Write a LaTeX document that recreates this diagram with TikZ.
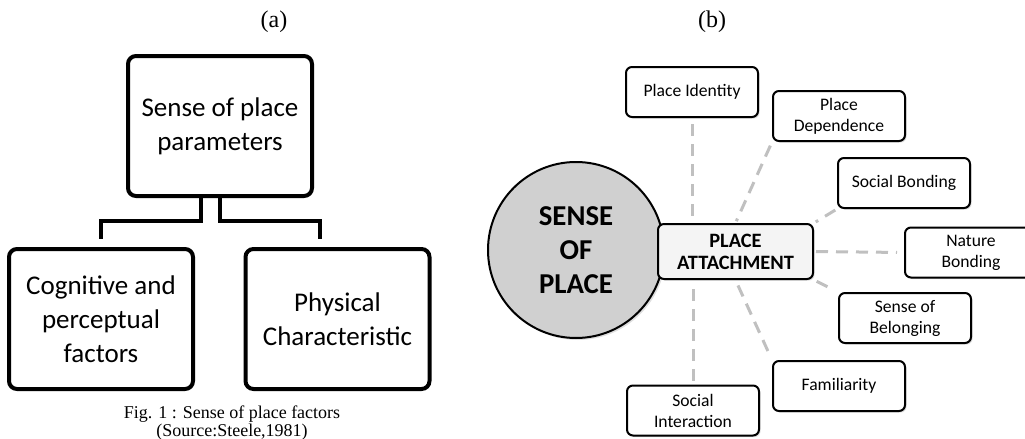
\documentclass[tikz,border=0pt]{standalone}
\usepackage{fontspec}
\setmainfont{Carlito}
\newfontfamily\capfont{Liberation Serif}
\usepackage{tikz}
\usetikzlibrary{shadows,positioning}
\definecolor{sopgray}{RGB}{208,208,208}
\definecolor{hubgray}{RGB}{244,244,244}
\definecolor{dashgray}{RGB}{192,192,192}

\begin{document}
\begin{tikzpicture}[x=0.5pt, y=-0.5pt]
    % Define styles
    \tikzset{
        bigbox/.style={rectangle, draw=black, line width=2pt, rounded corners=4pt, minimum width=92pt, minimum height=70pt, align=center, font=\fontsize{13.5}{17}\selectfont},
        smallbox/.style={rectangle, draw=black, line width=1pt, rounded corners=3pt, fill=white, minimum width=66pt, minimum height=25pt, align=center, inner sep=1pt, font=\fontsize{8.8}{10.5}\selectfont, drop shadow={shadow xshift=0.8pt, shadow yshift=-0.8pt, opacity=0.25}},
        hub/.style={smallbox, fill=hubgray, minimum width=77.5pt, minimum height=27.5pt, font=\fontsize{10.2}{11}\selectfont\bfseries},
        core/.style={circle, draw=black, line width=1pt, fill=sopgray, minimum size=88pt, align=center, font=\fontsize{14.4}{17}\selectfont\bfseries, drop shadow={shadow xshift=1pt, shadow yshift=-1pt, opacity=0.25}},
        elbow/.style={draw=black, line width=2pt},
        link/.style={draw=dashgray, line width=1.5pt, dash pattern=on 6pt off 4pt},
        panel/.style={font=\capfont\fontsize{12}{14}\selectfont}
    }
    \useasboundingbox (0,0) rectangle (1025,439);
    \clip (0,0) rectangle (1025,439);

    % Panel titles
    \node[panel] (ta) at (274,22) {(a)};
    \node[panel] (tb) at (712,22) {(b)};

    % (a) Components
    \node[bigbox] (spp) at (220,126) {Sense of place\\parameters};
    \node[bigbox] (cog) at (101,319) {Cognitive and\\perceptual\\factors};
    \node[bigbox] (phy) at (337.5,319) {Physical\\Characteristic};

    % (a) Connectors
    \draw[elbow] ([xshift=-9.5pt]spp.south) -- ++(0,23) -| ([yshift=4pt]cog.north);
    \draw[elbow] (spp.south) -- ++(0,23) -| ([xshift=-9pt,yshift=4pt]phy.north);

    % (a) Caption
    \node[align=center, font=\capfont\fontsize{9}{9.2}\selectfont] (cap) at (232,423) {Fig. 1 : Sense of place factors\\(Source:Steele,1981)};

    % (b) Components
    \node[core] (sop) at (576,250) {SENSE\\OF\\PLACE};
    \node[hub] (pa) at (735.5,251.5) {PLACE\\ATTACHMENT};
    \node[smallbox] (pid) at (692,92) {Place Identity};
    \node[smallbox] (pdep) at (839,116) {Place\\Dependence};
    \node[smallbox] (sbond) at (904,183) {Social Bonding};
    \node[smallbox] (nbond) at (971,252.5) {Nature\\Bonding};
    \node[smallbox] (sbel) at (905,318) {Sense of\\Belonging};
    \node[smallbox] (fam) at (839,386) {Familiarity};
    \node[smallbox] (sint) at (693,410.5) {Social\\Interaction};

    % (b) Connectors
    \draw[link, shorten <=3pt, shorten >=2pt] (pid.south) -- (pid.south |- pa.north);
    \draw[link, shorten <=2pt, shorten >=1pt] (pdep.south west) -- (pa.north);
    \draw[link, shorten <=1pt, shorten >=1pt] (sbond.south west) -- (pa.north east);
    \draw[link, shorten <=1pt, shorten >=3.5pt] (pa.east) -- (nbond.west);
    \draw[link, shorten <=1.5pt, shorten >=2pt] (pa.south east) -- (sbel.north west);
    \draw[link, shorten <=3pt, shorten >=1.5pt] (pa.south) -- (fam.north west);
    \draw[link, shorten <=2pt, shorten >=3pt] (sint.north) -- (sint.north |- pa.south);
\end{tikzpicture}
\end{document}
